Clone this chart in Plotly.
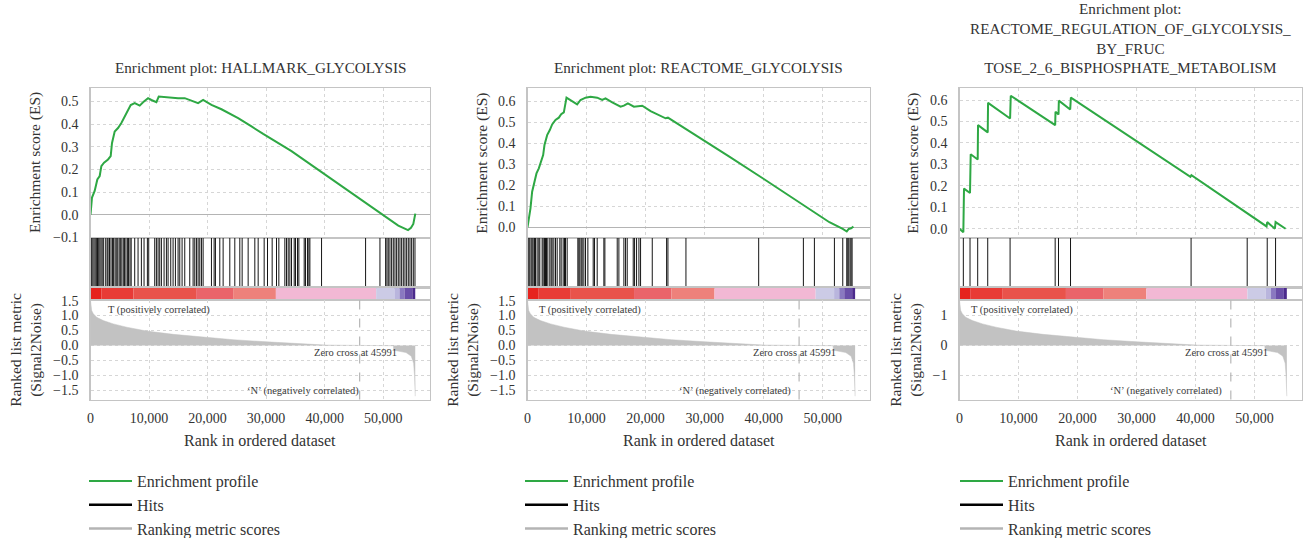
import plotly.graph_objects as go

# ---------------- data ----------------
TITLES = [
    "Enrichment plot: HALLMARK_GLYCOLYSIS",
    "Enrichment plot: REACTOME_GLYCOLYSIS",
    "Enrichment plot:<br>REACTOME_REGULATION_OF_GLYCOLYSIS_<br>BY_FRUC<br>TOSE_2_6_BISPHOSPHATE_METABOLISM",
]
LEGEND_NAMES = ["Enrichment profile", "Hits", "Ranking metric scores"]
ZERO_CROSS = 45991
X_TICKS = [0, 10000, 20000, 30000, 40000, 50000]
ES_TICKS = [
    [-0.1, 0.0, 0.1, 0.2, 0.3, 0.4, 0.5],
    [0.0, 0.1, 0.2, 0.3, 0.4, 0.5, 0.6],
    [0.0, 0.1, 0.2, 0.3, 0.4, 0.5, 0.6],
]
RM_TICKS = [
    [-1.5, -1.0, -0.5, 0.0, 0.5, 1.0, 1.5],
    [-1.5, -1.0, -0.5, 0.0, 0.5, 1.0, 1.5],
    [-1, 0, 1],
]

# running enrichment score, panel 1 (HALLMARK_GLYCOLYSIS)
ES1_X = [0, 256, 713, 1168, 1570, 1853, 2309, 2993, 3450, 3676, 4133, 4702, 5272,
         5843, 6413, 6868, 7553, 8408, 8978, 9833, 10403, 11258, 11657, 12683,
         14108, 14963, 16103, 17243, 18383, 19238, 20663, 22373, 25223, 27503,
         29498, 34337, 40048, 45743, 50018, 52583, 54250, 54750, 55150, 55490]
ES1_Y = [0.0, 0.076, 0.105, 0.156, 0.171, 0.215, 0.23, 0.244, 0.259, 0.317, 0.368,
         0.383, 0.405, 0.434, 0.456, 0.485, 0.493, 0.482, 0.497, 0.515, 0.507,
         0.497, 0.522, 0.519, 0.515, 0.515, 0.515, 0.503, 0.493, 0.507, 0.485,
         0.466, 0.427, 0.39, 0.357, 0.281, 0.178, 0.076, 0.0, -0.048, -0.068,
         -0.058, -0.041, 0.005]

# panel 2 (REACTOME_GLYCOLYSIS)
ES2_X = [0, 220, 503, 785, 1181, 1520, 1915, 2311, 2650, 2876, 3328, 3780, 4175,
         4740, 5305, 5701, 6153, 6605, 7566, 8413, 8978, 9826, 10673, 11803,
         12651, 13216, 14346, 15758, 16323, 17001, 18018, 19430, 20843, 21973,
         23385, 23781, 26493, 29035, 34177, 39827, 45477, 51127, 53387, 54065,
         54400, 54800, 55195]
ES2_Y = [0.0, 0.035, 0.09, 0.169, 0.209, 0.256, 0.28, 0.32, 0.343, 0.391, 0.438,
         0.462, 0.489, 0.51, 0.521, 0.537, 0.546, 0.616, 0.597, 0.584, 0.605,
         0.616, 0.62, 0.616, 0.605, 0.613, 0.594, 0.573, 0.578, 0.589, 0.573,
         0.578, 0.552, 0.537, 0.518, 0.521, 0.473, 0.431, 0.336, 0.233, 0.13,
         0.024, -0.008, -0.02, -0.008, -0.005, 0.003]

# panel 3 (REACTOME_REGULATION_OF_GLYCOLYSIS_BY_FRUCTOSE_2_6_...)
ES3_X = [0, 650, 763, 1782, 1896, 3084, 3141, 4783, 4840, 8575, 8688, 16216,
         16273, 16782, 16839, 18763, 18876, 39139, 39309, 52043, 52156, 53458,
         53571, 55269]
ES3_Y = [0.0, -0.016, 0.187, 0.167, 0.347, 0.323, 0.483, 0.449, 0.587, 0.514,
         0.62, 0.483, 0.545, 0.533, 0.597, 0.556, 0.611, 0.242, 0.25, 0.011,
         0.031, 0.0, 0.031, 0.0]

# hit positions (rank of each gene-set member)
HITS1 = [30, 200, 400, 600, 800, 1000, 1200, 1400, 1600, 1800, 2000, 2250, 2600,
         2850, 3000, 3250, 3500, 3750, 3950, 4200, 4400, 4650, 4900, 5100, 5350,
         5600, 5800, 6050, 6300, 6500, 6750, 6950, 7553, 8123, 8693, 9149, 9719,
         9947, 10973, 11258, 11543, 11828, 12113, 12569, 12968, 13253, 13709,
         14108, 14507, 14963, 15248, 15647, 16103, 16958, 17528, 17813, 18098,
         18383, 18668, 18953, 19238, 20663, 21119, 21347, 22088, 22658, 23798,
         24653, 25508, 25907, 26933, 28073, 28643, 29669, 30239, 31037, 31778,
         32177, 33203, 33488, 33773, 34058, 34343, 34799, 35027, 35369, 35597,
         36509, 36737, 37079, 37307, 37478, 39473, 46997, 49448, 50417, 50645,
         50873, 51158, 51443, 51728, 52013, 52298, 52583, 52868, 53153, 53438,
         53723, 54008, 54293, 54578, 54863, 55148, 55433]
HITS2 = [51, 221, 390, 616, 786, 955, 1181, 1351, 1633, 1916, 2085, 2481, 2650,
         2876, 3046, 3215, 3441, 3780, 4006, 4175, 4458, 4741, 5023, 5475, 5701,
         6040, 6266, 6436, 6718, 8526, 8696, 8865, 9091, 9261, 9543, 9826, 10221,
         11125, 11351, 11803, 12933, 13103, 15193, 15476, 16323, 16606, 16888,
         17905, 18131, 18470, 18866, 19148, 21126, 23555, 23781, 26832, 39149,
         46720, 48584, 51974, 53387, 54065, 54235, 54404, 54630, 54800, 54969]
HITS3 = [651, 1783, 3085, 4783, 8575, 16216, 16782, 18819, 39252, 48761, 52157,
         53572]

# ranked list metric (Signal2Noise), same ranked list in all panels
RM_X = [0, 60, 200, 485, 1055, 2195, 3905, 6185, 9605, 14165, 18725, 24425,
        30125, 35825, 40270, 45991, 51750, 51800, 52800, 53900, 54800, 55200,
        55350, 55480]
RM_Y = [1.50, 1.30, 1.17, 1.06, 0.94, 0.83, 0.72, 0.61, 0.48, 0.37, 0.28, 0.19,
        0.12, 0.055, 0.01, 0.0, -0.01, -0.16, -0.19, -0.24, -0.36, -0.6, -1.0,
        -1.7]

# colour band of the ranked list
CB_EDGES = [0, 1900, 7330, 18040, 24370, 31670, 48800, 51920, 52800, 53640,
            54980, 55480]
CB_COLORS = ["#e6231e", "#e83b36", "#e9534b", "#ea646a", "#ee817b", "#f2b8d4",
             "#cccbe6", "#b9b5dd", "#8a79c0", "#6a4fa8", "#4b2a8c"]

ES_X = [ES1_X, ES2_X, ES3_X]
ES_Y = [ES1_Y, ES2_Y, ES3_Y]
HITS = [HITS1, HITS2, HITS3]

# ---------------- style / layout ----------------
FONT = "Liberation Serif, Times New Roman, serif"
TXT = "#333333"
GREEN = "#2ea844"
GRID = "#d6d6d6"
FRAME = "#c4c4c4"
W, H = 1306, 538
PANEL_PX = [(90.5, 430.0), (527.5, 870.0), (959.5, 1301.7)]
ROW_PX = [(88, 238), (238, 287.5), (287.5, 300), (300, 399.5)]
ES_RANGES = [(-0.103, 0.56), (-0.051, 0.662), (-0.043, 0.656)]
RM_RANGE = (-1.81, 1.52)
X_MAX = 58000
ES_TITLE_X = [35, 481.7, 912.7]
RM_TITLE_X = [26, 463, 906]
T_LABEL_X = [0.045, 0.027, 0.027]
N_LABEL_X = [0.627, 0.605, 0.604]
LEG_X = [84, 520, 955]
LEG_TOP = 464


def fx(p):
    return p / W


def fy(p):
    return 1 - p / H


def ax_names(n):
    s = "" if n == 1 else str(n)
    return "xaxis" + s, "yaxis" + s, "x" + s, "y" + s


fig = go.Figure()
layout = {}
annotations = []
shapes = []
tickfont = dict(family=FONT, size=14, color=TXT)

for p in range(3):
    x0, x1 = PANEL_PX[p]
    legkey = "legend" if p == 0 else "legend%d" % (p + 1)
    for r in range(4):
        n = p * 4 + r + 1
        xa, ya, xr, yr = ax_names(n)
        top, bot = ROW_PX[r]
        xdict = dict(domain=[fx(x0), fx(x1)], anchor=yr, range=[0, X_MAX],
                     showline=True, mirror=True, linecolor=FRAME, linewidth=1.2,
                     zeroline=False, showgrid=(r in (0, 3)), gridcolor=GRID,
                     griddash="dot", tickvals=X_TICKS, showticklabels=(r == 3),
                     tickformat=",d", ticks="outside" if r == 3 else "",
                     ticklen=5, tickcolor="rgba(0,0,0,0)", tickfont=tickfont,
                     fixedrange=True, automargin=False)
        ydict = dict(domain=[fy(bot), fy(top)], anchor=xr, showline=True,
                     mirror=True, linecolor=FRAME, linewidth=1.2, zeroline=False,
                     fixedrange=True, tickfont=tickfont, automargin=False)
        if r == 0:
            ydict.update(range=list(ES_RANGES[p]), tickvals=ES_TICKS[p],
                         tickformat=".1f", showgrid=True, gridcolor=GRID,
                         griddash="dot", ticks="outside", ticklen=8,
                         tickcolor="rgba(0,0,0,0)",
                         zeroline=(p != 2), zerolinecolor="#b4b4b4",
                         zerolinewidth=1.2)
            fig.add_trace(go.Scatter(x=ES_X[p], y=ES_Y[p], mode="lines",
                                     line=dict(color=GREEN, width=2),
                                     name=LEGEND_NAMES[0], legend=legkey,
                                     xaxis=xr, yaxis=yr, hoverinfo="skip"))
        elif r == 1:
            ydict.update(range=[0, 1], showgrid=False, showticklabels=False,
                         ticks="")
            hx, hy = [], []
            for h in HITS[p]:
                hx += [h, h, None]
                hy += [0, 1, None]
            fig.add_trace(go.Scatter(x=hx, y=hy, mode="lines",
                                     line=dict(color="#151515", width=1),
                                     showlegend=False, xaxis=xr, yaxis=yr,
                                     hoverinfo="skip"))
            fig.add_trace(go.Scatter(x=[None], y=[None], mode="lines",
                                     line=dict(color="black", width=2.5),
                                     name=LEGEND_NAMES[1], legend=legkey,
                                     xaxis=xr, yaxis=yr))
        elif r == 2:
            ydict.update(range=[-0.5, 0.5], showgrid=False,
                         showticklabels=False, ticks="")
            starts = CB_EDGES[:-1]
            widths = [b - a for a, b in zip(CB_EDGES[:-1], CB_EDGES[1:])]
            fig.add_trace(go.Bar(orientation="h", y=[0] * len(widths), x=widths,
                                 base=starts, width=1,
                                 marker=dict(color=CB_COLORS, line=dict(width=0)),
                                 showlegend=False, xaxis=xr, yaxis=yr,
                                 hoverinfo="skip"))
        else:
            fmt = ".1f" if p < 2 else "d"
            ydict.update(range=list(RM_RANGE), tickvals=RM_TICKS[p],
                         tickformat=fmt, showgrid=True, gridcolor=GRID,
                         griddash="dot", ticks="outside", ticklen=8,
                         tickcolor="rgba(0,0,0,0)")
            fig.add_trace(go.Scatter(x=RM_X, y=RM_Y, mode="lines", fill="tozeroy",
                                     fillcolor="#c2c2c2",
                                     line=dict(color="#c2c2c2", width=0.5),
                                     showlegend=False, xaxis=xr, yaxis=yr,
                                     hoverinfo="skip"))
            fig.add_trace(go.Scatter(x=[None], y=[None], mode="lines",
                                     line=dict(color="#b4b4b4", width=2.5),
                                     name=LEGEND_NAMES[2], legend=legkey,
                                     xaxis=xr, yaxis=yr))
            shapes.append(dict(type="line", xref=xr, yref=yr + " domain",
                               x0=ZERO_CROSS, x1=ZERO_CROSS, y0=0, y1=1,
                               line=dict(color="#a8a8a8", width=1, dash="dash")))
            small = dict(family=FONT, size=10.5, color="#3a3a3a")
            annotations.append(dict(text="T (positively correlated)",
                                    xref=xr + " domain", yref=yr + " domain",
                                    x=T_LABEL_X[p], y=0.9, xanchor="left",
                                    yanchor="middle", showarrow=False, font=small))
            annotations.append(dict(text="Zero cross at %d" % ZERO_CROSS,
                                    xref=xr + " domain", yref=yr + " domain",
                                    x=0.78, y=0.475, xanchor="center",
                                    yanchor="middle", showarrow=False, font=small))
            annotations.append(dict(text="\u2018N\u2019 (negatively correlated)",
                                    xref=xr + " domain", yref=yr + " domain",
                                    x=N_LABEL_X[p], y=0.085, xanchor="center",
                                    yanchor="middle", showarrow=False, font=small))
        layout[xa] = xdict
        layout[ya] = ydict

    cx = fx((x0 + x1) / 2)
    annotations.append(dict(text=TITLES[p], xref="paper", yref="paper", x=cx,
                            y=fy(78), xanchor="center", yanchor="bottom",
                            showarrow=False,
                            font=dict(family=FONT, size=15.2, color=TXT)))
    annotations.append(dict(text="Enrichment score (ES)", xref="paper",
                            yref="paper", x=fx(ES_TITLE_X[p]),
                            y=fy((ROW_PX[0][0] + ROW_PX[0][1]) / 2),
                            xanchor="center", yanchor="middle", textangle=-90,
                            showarrow=False,
                            font=dict(family=FONT, size=15.5, color=TXT)))
    annotations.append(dict(text="Ranked list metric<br>(Signal2Noise)",
                            xref="paper", yref="paper", x=fx(RM_TITLE_X[p]),
                            y=fy((ROW_PX[3][0] + ROW_PX[3][1]) / 2),
                            xanchor="center", yanchor="middle", textangle=-90,
                            showarrow=False,
                            font=dict(family=FONT, size=15.5, color=TXT)))
    annotations.append(dict(text="Rank in ordered dataset", xref="paper",
                            yref="paper", x=cx, y=fy(440), xanchor="center",
                            yanchor="middle", showarrow=False,
                            font=dict(family=FONT, size=16, color=TXT)))
    layout[legkey] = dict(x=fx(LEG_X[p]), y=fy(LEG_TOP), xanchor="left",
                          yanchor="top", bgcolor="rgba(0,0,0,0)", itemwidth=43,
                          font=dict(family=FONT, size=16, color=TXT),
                          tracegroupgap=0, itemclick=False,
                          itemdoubleclick=False)

fig.update_layout(width=W, height=H,
                  margin=dict(l=0, r=0, t=0, b=0, pad=0, autoexpand=False),
                  paper_bgcolor="white", plot_bgcolor="white",
                  font=dict(family=FONT, color=TXT), showlegend=True,
                  annotations=annotations, shapes=shapes, hovermode=False,
                  **layout)
# remove the browser's default 8px page margin so the figure fills the window
fig.write_html("out.html",
               config={"displayModeBar": False, "staticPlot": True},
               post_script="document.body.style.margin='0px';"
                           "document.body.style.overflow='hidden';")
